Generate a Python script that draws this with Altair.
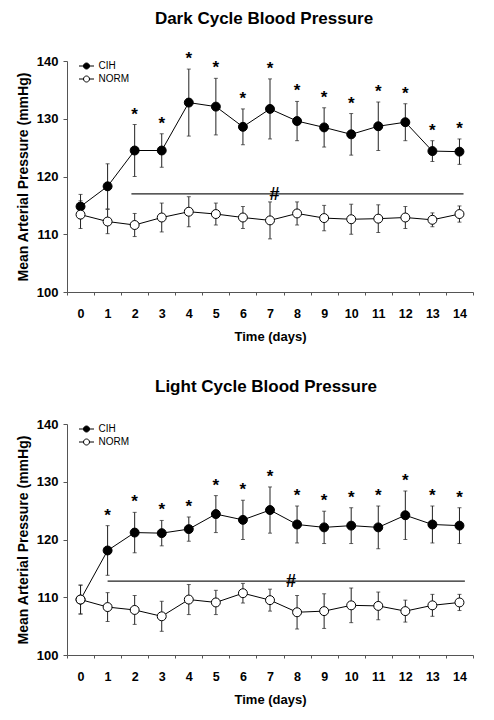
import altair as alt
import pandas as pd

days = list(range(15))

# Dark cycle
dark_cih_mean = [114.8, 118.3, 124.5, 124.5, 132.8, 132.1, 128.6, 131.7, 129.6, 128.5, 127.3, 128.7, 129.4, 124.4, 124.3]
dark_cih_err = [2.1, 3.9, 4.5, 2.9, 5.8, 4.9, 3.1, 5.2, 3.4, 3.4, 3.6, 4.2, 3.2, 1.8, 2.2]
dark_norm_mean = [113.4, 112.2, 111.6, 112.9, 113.9, 113.5, 112.9, 112.4, 113.6, 112.8, 112.6, 112.7, 112.9, 112.5, 113.5]
dark_norm_err = [2.4, 2.1, 2.0, 2.5, 2.6, 1.9, 1.9, 3.2, 2.0, 2.2, 2.6, 2.4, 1.9, 1.2, 1.4]
dark_star = [0, 0, 1, 1, 1, 1, 1, 1, 1, 1, 1, 1, 1, 1, 1]
dark_hash = {"start": 1.88, "end": 14.15, "y": 117.0, "x": 7.17}

# Light cycle
light_cih_mean = [109.6, 118.1, 121.2, 121.1, 121.8, 124.4, 123.4, 125.1, 122.6, 122.1, 122.4, 122.1, 124.2, 122.6, 122.4]
light_cih_err = [2.5, 4.3, 3.5, 2.2, 2.1, 3.2, 3.4, 4.0, 3.2, 2.8, 3.1, 3.7, 4.2, 3.2, 3.1]
light_norm_mean = [109.6, 108.3, 107.8, 106.7, 109.6, 109.1, 110.7, 109.5, 107.4, 107.6, 108.6, 108.5, 107.6, 108.6, 109.1]
light_norm_err = [2.5, 2.5, 2.5, 2.6, 2.6, 2.1, 1.7, 1.9, 2.9, 3.0, 3.0, 2.4, 1.9, 1.9, 1.4]
light_star = [0, 1, 1, 1, 1, 1, 1, 1, 1, 1, 1, 1, 1, 1, 1]
light_hash = {"start": 1.0, "end": 14.2, "y": 112.8, "x": 7.78}

series_names = ["CIH", "NORM"]
y_ticks = [100, 110, 120, 130, 140]
FONT = "Liberation Sans"

LEGEND_PATH = ("M-1,0L-0.4,0M0.4,0L1,0"
               "M0.4,0A0.4,0.4,0,1,1,-0.4,0A0.4,0.4,0,1,1,0.4,0Z")


def panel(title, cih_mean, cih_err, norm_mean, norm_err, star, hsh, dx):
    rows = []
    for name, m, e in (("CIH", cih_mean, cih_err), ("NORM", norm_mean, norm_err)):
        for i, d in enumerate(days):
            rows.append({"day": d, "series": name, "mean": m[i],
                         "lo": m[i] - e[i], "hi": m[i] + e[i],
                         "star": star[i] if name == "CIH" else 0})
    df = pd.DataFrame(rows)
    hdf = pd.DataFrame([hsh])

    xs = alt.Scale(domain=[-0.5, 14.5], nice=False, zero=False)
    ys = alt.Scale(domain=[100, 140], nice=False, zero=False)
    tick_vals = [d - 0.5 for d in days] + [days[-1] + 0.5]
    xaxis = alt.Axis(values=tick_vals, tickCount=40, title="Time (days)", grid=False,
                     labelExpr="datum.value < 14 ? format(datum.value + 0.5, 'd') : ''",
                     labelOffset={"condition": {"test": "datum.value > 14", "value": -10},
                                  "value": 13.5},
                     tickSize=3, labelPadding=12,
                     labelOverlap=False, labelBound=False, labelFlush=False,
                     labelFontSize=12.5, labelFontWeight="bold", labelFont=FONT,
                     titleFontSize=13, titleFontWeight="bold", titleFont=FONT,
                     titlePadding=11, domainColor="#555", tickColor="#555",
                     labelColor="black", titleColor="black")
    yaxis = alt.Axis(values=y_ticks, tickCount=10, title="Mean Arterial Pressure (mmHg)",
                     grid=False, tickSize=4, labelPadding=5, labelFontSize=13,
                     labelFontWeight="bold", labelFont=FONT, titleFontSize=14,
                     titleFontWeight="bold", titleFont=FONT, titlePadding=6,
                     domainColor="#555", tickColor="#555",
                     labelColor="black", titleColor="black")

    base = alt.Chart(df)
    x = alt.X("day:Q", scale=xs, axis=xaxis)

    hrule = alt.Chart(hdf).mark_rule(color="#222", strokeWidth=1.2).encode(
        x=alt.X("start:Q", scale=xs, axis=xaxis), x2="end:Q",
        y=alt.Y("y:Q", scale=ys, axis=yaxis))
    htext = alt.Chart(hdf).mark_text(text="#", fontSize=18, fontWeight="bold",
                                     font=FONT, baseline="middle", dy=1).encode(
        x=alt.X("x:Q", scale=xs, axis=xaxis), y=alt.Y("y:Q", scale=ys, axis=yaxis))
    bars = base.mark_rule(color="#222", strokeWidth=1).encode(
        x=x, y=alt.Y("lo:Q", scale=ys, axis=yaxis), y2="hi:Q", detail="series:N")
    cap_lo = base.mark_tick(orient="horizontal", size=4, thickness=1, color="#222").encode(
        x=x, y=alt.Y("lo:Q", scale=ys, axis=yaxis))
    cap_hi = base.mark_tick(orient="horizontal", size=4, thickness=1, color="#222").encode(
        x=x, y=alt.Y("hi:Q", scale=ys, axis=yaxis))
    line = base.mark_line(color="black", strokeWidth=1).encode(
        x=x, y=alt.Y("mean:Q", scale=ys, axis=yaxis), detail="series:N")
    pts = base.mark_point(filled=True, size=80, stroke="black", strokeWidth=1,
                          opacity=1).encode(
        x=x, y=alt.Y("mean:Q", scale=ys, axis=yaxis),
        fill=alt.Fill("series:N",
                      scale=alt.Scale(domain=series_names, range=["black", "white"]),
                      legend=alt.Legend(title=None, orient="none", legendX=11.5,
                                        legendY=-3, symbolType=LEGEND_PATH,
                                        symbolSize=225, symbolStrokeColor="black",
                                        symbolStrokeWidth=1, labelFontSize=10,
                                        labelFont=FONT, labelOffset=4, rowPadding=0,
                                        padding=0, labelColor="black")))
    stars = base.transform_filter("datum.star == 1").mark_text(
        text="*", fontSize=17, fontWeight="bold", font=FONT, baseline="alphabetic",
        dy=-5, color="black").encode(x=x, y=alt.Y("hi:Q", scale=ys, axis=yaxis))

    return alt.layer(hrule, htext, bars, cap_lo, cap_hi, line, pts, stars).properties(
        width=406, height=231,
        title=alt.TitleParams(title, fontSize=17, fontWeight="bold", font=FONT,
                              frame="group", anchor="middle", offset=22, dx=dx,
                              color="black"))


top = panel("Dark Cycle Blood Pressure", dark_cih_mean, dark_cih_err,
            dark_norm_mean, dark_norm_err, dark_star, dark_hash, -6)
bottom = panel("Light Cycle Blood Pressure", light_cih_mean, light_cih_err,
               light_norm_mean, light_norm_err, light_star, light_hash, -4)

chart = alt.vconcat(top, bottom, spacing=34).resolve_scale(fill="independent").properties(
    padding={"left": 8, "top": 2, "right": 5, "bottom": 1},
    background="white"
).configure_view(stroke=None)

chart.save("out.html", embed_options={"renderer": "svg", "actions": False})
